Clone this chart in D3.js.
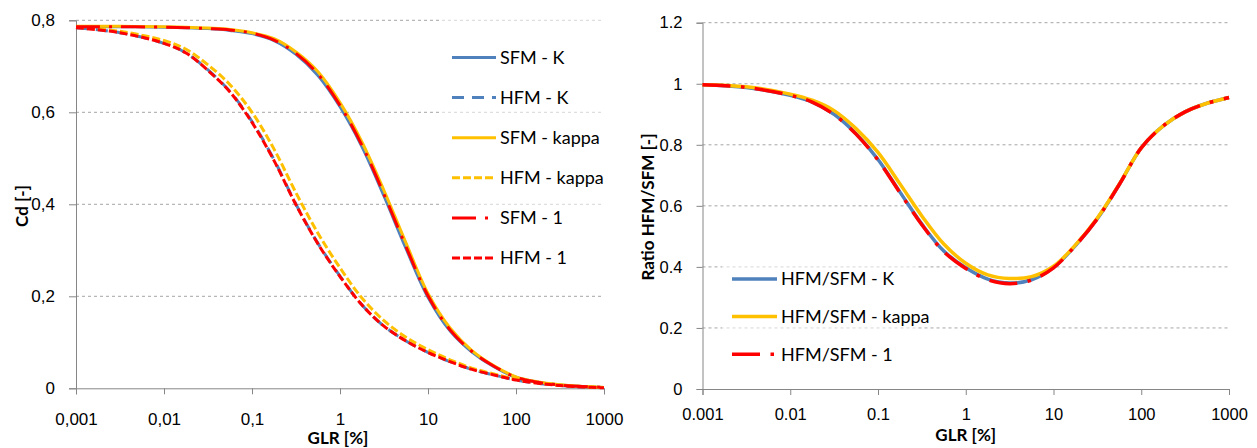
<!DOCTYPE html>
<html>
<head>
<meta charset="utf-8">
<script src="https://cdn.jsdelivr.net/npm/d3@7"></script>
<style>
  body { margin: 0; background: #fff; }
  svg { font-family: Lato, "Open Sans", sans-serif; }
  .axis path, .axis line { stroke: #868686; }
  .axis text { fill: #000; }
</style>
</head>
<body>
<div class="container"></div>
<script>
var w = 1257;
var h = 448;

// GLR [%] sample points (quarter decades)
var glr = [0.001, 0.00316, 0.01, 0.0178, 0.0316, 0.0562, 0.1, 0.178, 0.316, 0.562,
  1, 1.78, 3.16, 5.62, 10, 17.8, 31.6, 56.2, 100, 178, 316, 562, 1000];

// left chart: Cd [-]
var sfmK = [0.786, 0.786, 0.785, 0.784, 0.782, 0.778, 0.771, 0.756, 0.726, 0.680,
  0.612, 0.525, 0.418, 0.304, 0.198, 0.125, 0.079, 0.047, 0.024, 0.013, 0.007, 0.004, 0.002];
var hfmK = [0.784, 0.773, 0.750, 0.729, 0.692, 0.645, 0.580, 0.497, 0.400, 0.315,
  0.244, 0.181, 0.135, 0.103, 0.078, 0.058, 0.041, 0.029, 0.018, 0.011, 0.006, 0.003, 0.001];
var sfmKappa = [0.787, 0.787, 0.786, 0.785, 0.783, 0.780, 0.773, 0.760, 0.731, 0.688,
  0.621, 0.535, 0.430, 0.316, 0.206, 0.131, 0.082, 0.049, 0.025, 0.014, 0.008, 0.004, 0.002];
var hfmKappa = [0.785, 0.776, 0.756, 0.737, 0.703, 0.660, 0.600, 0.520, 0.425, 0.337,
  0.262, 0.196, 0.147, 0.111, 0.084, 0.062, 0.044, 0.031, 0.020, 0.012, 0.007, 0.004, 0.002];
var sfm1 = [0.786, 0.786, 0.785, 0.784, 0.782, 0.779, 0.772, 0.757, 0.728, 0.683,
  0.615, 0.528, 0.422, 0.308, 0.201, 0.127, 0.080, 0.048, 0.024, 0.013, 0.007, 0.004, 0.002];
var hfm1 = [0.784, 0.773, 0.750, 0.729, 0.691, 0.644, 0.578, 0.495, 0.399, 0.314,
  0.243, 0.181, 0.135, 0.103, 0.078, 0.058, 0.041, 0.029, 0.018, 0.011, 0.006, 0.003, 0.001];

// right chart: ratio HFM/SFM [-]
var ratioK = [0.997, 0.988, 0.962, 0.940, 0.900, 0.836, 0.752, 0.645, 0.540, 0.452,
  0.397, 0.360, 0.347, 0.358, 0.398, 0.470, 0.558, 0.670, 0.790, 0.862, 0.908, 0.936, 0.955];
var ratioKappa = [0.997, 0.990, 0.966, 0.946, 0.912, 0.853, 0.775, 0.672, 0.567, 0.475,
  0.412, 0.374, 0.362, 0.368, 0.402, 0.472, 0.560, 0.671, 0.790, 0.862, 0.908, 0.936, 0.955];
var ratio1 = [0.997, 0.988, 0.962, 0.940, 0.899, 0.835, 0.750, 0.643, 0.538, 0.450,
  0.395, 0.358, 0.345, 0.357, 0.397, 0.470, 0.558, 0.670, 0.790, 0.862, 0.908, 0.936, 0.955];

var xTicks = [0.001, 0.01, 0.1, 1, 10, 100, 1000];
var xLabelsLeft = ["0,001", "0,01", "0,1", "1", "10", "100", "1000"];
var xLabelsRight = ["0.001", "0.01", "0.1", "1", "10", "100", "1000"];
var yTicksLeft = [0, 0.2, 0.4, 0.6, 0.8];
var yLabelsLeft = ["0", "0,2", "0,4", "0,6", "0,8"];
var yTicksRight = [0, 0.2, 0.4, 0.6, 0.8, 1, 1.2];
var yLabelsRight = ["0", "0.2", "0.4", "0.6", "0.8", "1", "1.2"];

var blue = "#4f81bd", yellow = "#ffc000", red = "#ff0000";

var canvas = d3.select(".container").append("svg")
  .attr("width", w).attr("height", h);

function drawChart(o) {
  var x = d3.scaleLog().domain([0.001, 1000]).range([o.x0, o.x1]);
  var y = d3.scaleLinear().domain([0, o.yMax]).range([o.y0, o.y1]);
  var g = canvas.append("g");

  // gridlines
  g.append("g").selectAll("line")
    .data(o.yTicks.filter(d => d > 0))
    .enter().append("line")
    .attr("x1", o.x0).attr("x2", o.x1)
    .attr("y1", d => y(d)).attr("y2", d => y(d))
    .attr("stroke", "#a6a6a6")
    .attr("stroke-dasharray", "3,3");

  g.append("g").attr("class", "axis")
    .attr("transform", "translate(" + o.x0 + ",0)")
    .call(d3.axisLeft(y).tickValues(o.yTicks).tickSizeOuter(0)
      .tickSize(o.yTickSize).tickPadding(o.yPad)
      .tickFormat((d, i) => o.yLabels[i]))
    .style("font-size", o.fs + "px");

  g.append("g").attr("class", "axis")
    .attr("transform", "translate(0," + o.y0 + ")")
    .call(d3.axisBottom(x).tickValues(xTicks).tickSizeOuter(0)
      .tickSize(6).tickPadding(o.xPad)
      .tickFormat((d, i) => o.xLabels[i]))
    .style("font-size", o.fs + "px");

  var line = d3.line()
    .x((d, i) => x(glr[i]))
    .y(d => y(d))
    .curve(d3.curveCatmullRom.alpha(0.5));

  o.series.forEach(s => {
    g.append("path")
      .attr("d", line(s.values))
      .attr("fill", "none")
      .attr("stroke", s.color)
      .attr("stroke-width", s.width)
      .attr("stroke-dasharray", s.dash || null);
  });

  // legend
  g.append("rect")
    .attr("x", o.legend.x).attr("y", o.legend.y)
    .attr("width", o.legend.w).attr("height", o.legend.h)
    .attr("fill", "#fff").attr("opacity", 0.55);

  o.series.forEach((s, i) => {
    var ly = o.legend.top + i * o.legend.step;
    g.append("line")
      .attr("x1", o.legend.lx).attr("x2", o.legend.lx + o.legend.len)
      .attr("y1", ly).attr("y2", ly)
      .attr("stroke", s.color)
      .attr("stroke-width", s.width)
      .attr("stroke-dasharray", s.dash || null);
    g.append("text")
      .attr("x", o.legend.lx + o.legend.len + 4)
      .attr("y", ly)
      .attr("dy", "0.35em")
      .style("font-size", "18px")
      .text(s.name);
  });

  // axis titles
  g.append("text")
    .attr("x", (o.x0 + o.x1) / 2 + o.xtOff).attr("y", o.xtY)
    .attr("text-anchor", "middle")
    .style("font-size", "17px").style("font-weight", "bold")
    .text("GLR [%]");
  g.append("text")
    .attr("transform", "translate(" + o.ytX + "," + o.ytY + ") rotate(-90)")
    .attr("text-anchor", "middle")
    .attr("dy", "0.35em")
    .style("font-size", "17px").style("font-weight", "bold")
    .text(o.yTitle);
}

drawChart({
  x0: 76, x1: 604, y0: 388.3, y1: 20.3, yMax: 0.8,
  yTicks: yTicksLeft, yLabels: yLabelsLeft, xLabels: xLabelsLeft,
  yTickSize: 7, yPad: 14, xPad: 19, fs: 17,
  xtOff: -2, xtY: 444, ytX: 22, ytY: 206, yTitle: "Cd [-]",
  series: [
    { name: "SFM - K", values: sfmK, color: blue, width: 3 },
    { name: "HFM - K", values: hfmK, color: blue, width: 3, dash: "12,8" },
    { name: "SFM - kappa", values: sfmKappa, color: yellow, width: 3 },
    { name: "HFM - kappa", values: hfmKappa, color: yellow, width: 3, dash: "8,3" },
    { name: "SFM - 1", values: sfm1, color: red, width: 3, dash: "24,9,3,9" },
    { name: "HFM - 1", values: hfm1, color: red, width: 3, dash: "8,3" }
  ],
  legend: { x: 442, y: 14, w: 161, h: 266, lx: 452, len: 44, top: 57.5, step: 40.1 }
});

drawChart({
  x0: 702.5, x1: 1229, y0: 389, y1: 22.7, yMax: 1.2,
  yTicks: yTicksRight, yLabels: yLabelsRight, xLabels: xLabelsRight,
  yTickSize: 6, yPad: 14, xPad: 13, fs: 16.5,
  xtOff: 0, xtY: 441, ytX: 648, ytY: 207, yTitle: "Ratio HFM/SFM [-]",
  series: [
    { name: "HFM/SFM - K", values: ratioK, color: blue, width: 3.5 },
    { name: "HFM/SFM - kappa", values: ratioKappa, color: yellow, width: 3.5 },
    { name: "HFM/SFM - 1", values: ratio1, color: red, width: 3.5, dash: "28,10.5,3.5,10.5" }
  ],
  legend: { x: 722, y: 262, w: 196, h: 110, lx: 732, len: 45, top: 279, step: 37.6 }
});
</script>
</body>
</html>
